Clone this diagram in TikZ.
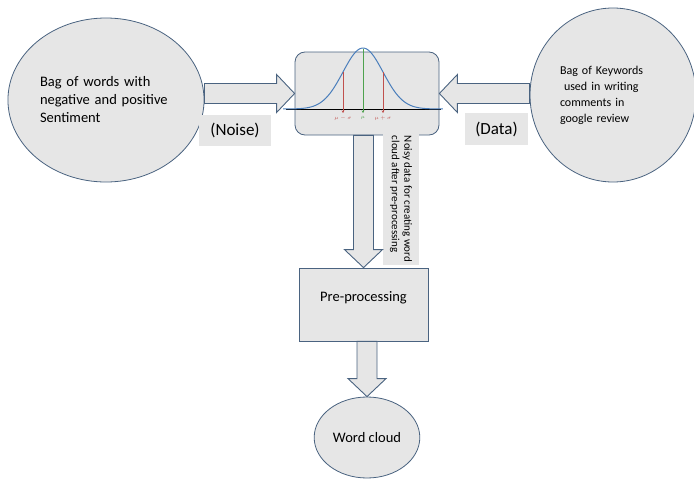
\documentclass[tikz,border=0pt]{standalone}
\usepackage{fontspec}
\setmainfont{Carlito}
\usetikzlibrary{shapes.geometric,calc,arrows.meta}

\definecolor{boxgray}{HTML}{E6E6E6}
\definecolor{edgeblue}{HTML}{4A6380}
\definecolor{curveblue}{HTML}{4A7EBB}
\definecolor{mured}{HTML}{C0504D}
\definecolor{mugreen}{HTML}{4EA24E}

% fat outlined arrow from #1 to the tip #2
\newcommand{\blockarrow}[2]{%
  \path ($(#2)!18pt!(#1)$) coordinate (base);
  \draw[block arrow] ($(#1)!10pt!90:(#2)$) -- ($(base)!10pt!90:(#2)$)
    -- ($(base)!19pt!90:(#2)$) -- (#2) -- ($(base)!19pt!-90:(#2)$)
    -- ($(base)!10pt!-90:(#2)$) -- ($(#1)!10pt!-90:(#2)$) -- cycle;}

\begin{document}
\begin{tikzpicture}[x=1pt,y=-1pt,
    bubble/.style={ellipse,draw=edgeblue,fill=boxgray,line width=0.8pt},
    panel/.style={rectangle,draw=edgeblue,fill=boxgray,line width=0.8pt},
    tag/.style={fill=boxgray,inner sep=2pt},
    block arrow/.style={draw=edgeblue,fill=boxgray,line width=0.9pt,line join=miter},
    mulabel/.style={font=\fontsize{4}{4}\selectfont,inner sep=0pt}]
  \useasboundingbox (0,0) rectangle (694,479);

  \node[bubble,minimum width=192pt,minimum height=164pt,text width=132pt,align=left,
        font=\fontsize{14.5}{18}\selectfont] (bag) at (106,100)
        {Bag of words with\\negative and positive\\Sentiment};
  \node[bubble,minimum width=166pt,minimum height=174pt,text width=106pt,align=left,
        font=\fontsize{12}{16}\selectfont] (keys) at (613,95)
        {Bag of Keywords\\\ used in writing\\comments in\\google review};
  \node[panel,rounded corners=10pt,minimum width=144pt,minimum height=83pt] (gauss) at (367,93.5) {};
  \node[tag,minimum width=72pt,minimum height=31pt,font=\fontsize{17}{20}\selectfont] (noise) at (235,130.5) {(Noise)};
  \node[tag,minimum width=63pt,minimum height=32pt,font=\fontsize{17}{20}\selectfont] (data) at (496.5,129) {(Data)};
  \node[tag,rotate=-90,align=left,minimum width=132pt,minimum height=36pt,
        font=\fontsize{11}{12.5}\selectfont] (note) at (401,199)
        {Noisy data for creating word\\cloud after pre-processing};
  \node[panel,minimum width=129pt,minimum height=73pt,text depth=15pt,
        font=\fontsize{14.5}{17}\selectfont] (pre) at (363.5,304.5) {Pre-processing};
  \node[bubble,minimum width=98pt,minimum height=81pt,
        font=\fontsize{14.5}{17}\selectfont] (cloud) at (367,437.5) {Word cloud};

  % normal curve in the top panel
  \coordinate (mu) at (363,109);
  \draw[line width=0.8pt] ($(mu)+(-77,0)$) -- ($(mu)+(78,0)$);
  \draw[curveblue,line width=1pt,domain=-4:4,samples=80]
    plot ({363+20*\x},{109-61*exp(-0.5*\x*\x)});
  \coordinate (lo) at (343,72);
  \coordinate (hi) at (383,72);
  \coordinate (top) at (363,48.5);
  \draw[mured,line width=0.8pt,-{Stealth[length=2.5pt,width=2.5pt]}] (lo) -- ($(lo |- mu)+(0,4)$);
  \draw[mured,line width=0.8pt,-{Stealth[length=2.5pt,width=2.5pt]}] (hi) -- ($(hi |- mu)+(0,4)$);
  \draw[mugreen,line width=0.8pt,-{Stealth[length=2.5pt,width=2.5pt]}] (top) -- ($(mu)+(0,4)$);
  \node[mulabel,text=mured] (lol) at ($(lo |- mu)+(0,9)$) {$\mu-\sigma$};
  \node[mulabel,text=mugreen] (mul) at ($(mu)+(0,9)$) {$\mu$};
  \node[mulabel,text=mured] (hil) at ($(hi |- mu)+(0,9)$) {$\mu+\sigma$};

  % block arrows
  \coordinate (s1) at (bag.east |- gauss.west);
  \blockarrow{s1}{gauss.west}
  \coordinate (s2) at (keys.west |- gauss.east);
  \blockarrow{s2}{gauss.east}
  \coordinate (s3) at (pre.north |- gauss.south);
  \blockarrow{s3}{pre.north}
  \coordinate (s4) at (cloud.north |- pre.south);
  \blockarrow{s4}{cloud.north}
\end{tikzpicture}
\end{document}
